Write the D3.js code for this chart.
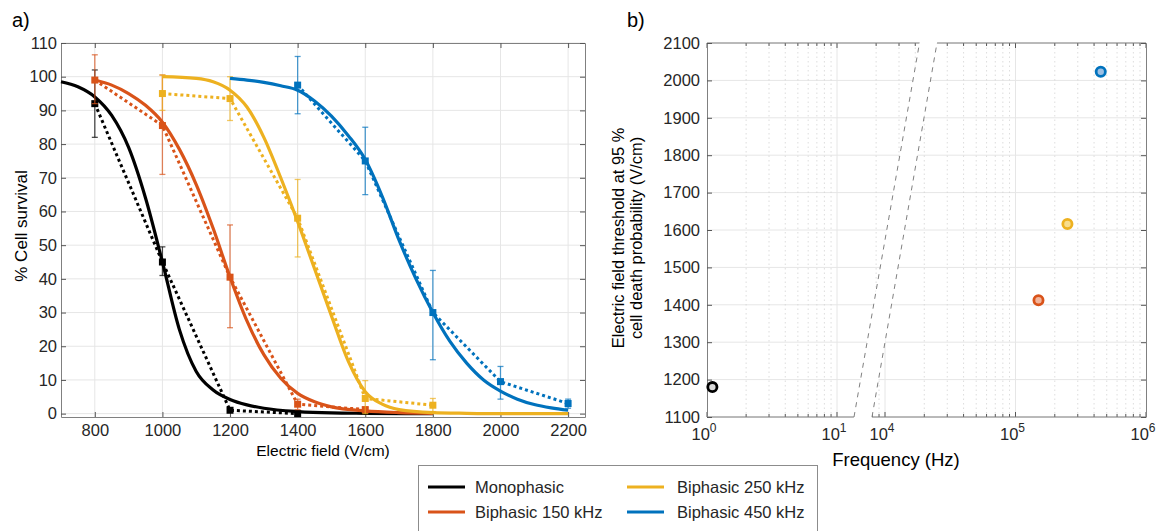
<!DOCTYPE html>
<html>
<head>
<meta charset="utf-8">
<script src="https://cdn.jsdelivr.net/npm/d3@7"></script>
<style>
  body { margin: 0; background: #fff; }
  svg { display: block; font-family: "Liberation Sans", Arial, Helvetica, sans-serif; }
</style>
</head>
<body>
<script>
// ---- data ----
const seriesNames = ["Monophasic", "Biphasic 150 kHz", "Biphasic 250 kHz", "Biphasic 450 kHz"];
const seriesColors = ["#000000", "#D95319", "#EDB120", "#0072BD"];
const seriesFills = ["#d9d9d9", "#f2b49b", "#f8dd8c", "#9cbfe3"];

const fieldTicks = [800, 1000, 1200, 1400, 1600, 1800, 2000, 2200];
const survivalTicks = [0, 10, 20, 30, 40, 50, 60, 70, 80, 90, 100, 110];

// measured survival (mean, low and high of error bar)
const measField = [
  [800, 1000, 1200, 1400],
  [800, 1000, 1200, 1400, 1600],
  [1000, 1200, 1400, 1600, 1800],
  [1400, 1600, 1800, 2000, 2200]
];
const measMean = [
  [92, 45, 1, 0],
  [99, 85.5, 40.5, 2.8, 1.2],
  [95, 93.5, 58, 4.5, 2.5],
  [97.5, 75, 30, 9.5, 3]
];
const measLow = [
  [82, 41, 0.5, 0],
  [92, 71, 25.5, 1.2, 0.6],
  [90, 87, 46.5, 0, 0.6],
  [89, 65, 16, 4.3, 1.6]
];
const measHigh = [
  [102, 49.5, 1.5, 0.4],
  [106.5, 100.5, 56, 4.3, 1.8],
  [100.5, 100, 69.5, 9.8, 4.5],
  [106, 85, 42.5, 14, 4.3]
];

// fitted curves
const fitField = [
  [700, 750, 800, 850, 900, 950, 1000, 1050, 1100, 1150, 1200, 1250, 1300, 1400, 1500, 1600, 1800],
  [800, 850, 900, 950, 1000, 1050, 1100, 1150, 1200, 1250, 1300, 1350, 1400, 1450, 1500, 1600, 1700, 1800],
  [1000, 1100, 1150, 1200, 1250, 1300, 1350, 1400, 1450, 1500, 1550, 1600, 1650, 1700, 1800, 1900, 2000, 2200],
  [1200, 1250, 1300, 1350, 1400, 1450, 1500, 1550, 1600, 1650, 1700, 1750, 1800, 1850, 1900, 1950, 2000, 2050, 2100, 2150, 2200]
];
const fitSurvival = [
  [98.5, 97, 94, 88.5, 79, 64, 45, 25, 12.5, 7, 4.2, 2.6, 1.6, 0.6, 0.2, 0.1, 0],
  [99, 97.5, 95, 91.5, 86.5, 78.5, 68, 55, 40.5, 27.5, 17.5, 10.5, 6, 3.5, 2, 0.8, 0.3, 0.1],
  [100, 99.5, 98.5, 96, 91, 82, 70, 57, 43, 29, 15.5, 6.5, 2.8, 1.2, 0.3, 0.1, 0, 0],
  [99.5, 99, 98.3, 97.3, 96, 92.8, 88.3, 82.5, 75.4, 64.5, 51.5, 40, 30, 21.5, 15, 10, 6.7, 4.3, 2.7, 1.7, 1]
];

// panel b
const freqHz = [1.1, 150000, 250000, 450000];
const thresholdVcm = [1180, 1412, 1616, 2023];
const thresholdTicks = [1100, 1200, 1300, 1400, 1500, 1600, 1700, 1800, 1900, 2000, 2100];
const freqTicksLow = [1, 10];
const freqTicksHigh = [1e4, 1e5, 1e6];

const W = 1167, H = 531;
const TXT = "#262626", AXC = "#808080", GRID = "#e6e6e6";

const svg = d3.select("body").append("svg").attr("width", W).attr("height", H);

// ================= panel a =================
const x = d3.scaleLinear().domain([700, 2250]).range([61, 585]);
const y = d3.scaleLinear().domain([-1, 110]).range([417, 43]);

const ga = svg.append("g");

ga.append("g").selectAll("line").data(fieldTicks).enter().append("line")
  .attr("x1", d => x(d)).attr("x2", d => x(d))
  .attr("y1", y.range()[1]).attr("y2", y.range()[0])
  .attr("stroke", GRID).attr("stroke-width", 1);
ga.append("g").selectAll("line").data(survivalTicks).enter().append("line")
  .attr("x1", x.range()[0]).attr("x2", x.range()[1])
  .attr("y1", d => y(d)).attr("y2", d => y(d))
  .attr("stroke", GRID).attr("stroke-width", 1);

function styleAxis(g, size) {
  g.attr("font-size", size).attr("font-family", null);
  g.select(".domain").attr("stroke", AXC);
  g.selectAll(".tick line").attr("stroke", "#555");
  g.selectAll(".tick text").attr("fill", TXT);
}

ga.append("g").attr("transform", `translate(0,${y.range()[0]})`)
  .call(d3.axisBottom(x).tickValues(fieldTicks).tickSizeInner(-5).tickSizeOuter(0).tickPadding(7).tickFormat(d3.format("d")))
  .call(g => styleAxis(g, 16.5));
ga.append("g").attr("transform", `translate(0,${y.range()[1]})`)
  .call(d3.axisTop(x).tickValues(fieldTicks).tickSizeInner(-5).tickSizeOuter(0).tickFormat(""))
  .call(g => styleAxis(g, 16.5));
ga.append("g").attr("transform", `translate(${x.range()[0]},0)`)
  .call(d3.axisLeft(y).tickValues(survivalTicks).tickSizeInner(-5).tickSizeOuter(0).tickPadding(4))
  .call(g => styleAxis(g, 16.5));
ga.append("g").attr("transform", `translate(${x.range()[1]},0)`)
  .call(d3.axisRight(y).tickValues(survivalTicks).tickSizeInner(-5).tickSizeOuter(0).tickFormat(""))
  .call(g => styleAxis(g, 16.5));

const fitLine = d3.line().x(d => x(d[0])).y(d => y(d[1])).curve(d3.curveMonotoneX);
const dotLine = d3.line().x(d => x(d[0])).y(d => y(d[1]));

seriesNames.forEach((name, i) => {
  const col = seriesColors[i];
  const fit = fitField[i].map((f, j) => [f, fitSurvival[i][j]]);
  const meas = measField[i].map((f, j) => ({ f: f, m: measMean[i][j], lo: measLow[i][j], hi: measHigh[i][j] }));
  const gs = ga.append("g");

  gs.append("path").datum(fit).attr("d", fitLine)
    .attr("fill", "none").attr("stroke", col).attr("stroke-width", 3.2);
  gs.append("path").datum(meas.map(d => [d.f, d.m])).attr("d", dotLine)
    .attr("fill", "none").attr("stroke", col).attr("stroke-width", 3)
    .attr("stroke-dasharray", "3,3");

  const eb = gs.append("g").attr("stroke", col).attr("stroke-opacity", 0.7).attr("stroke-width", 1.3);
  eb.selectAll(".v").data(meas).enter().append("line")
    .attr("x1", d => x(d.f)).attr("x2", d => x(d.f))
    .attr("y1", d => y(d.lo)).attr("y2", d => y(d.hi));
  eb.selectAll(".t").data(meas).enter().append("line")
    .attr("x1", d => x(d.f) - 3).attr("x2", d => x(d.f) + 3)
    .attr("y1", d => y(d.hi)).attr("y2", d => y(d.hi));
  eb.selectAll(".b").data(meas).enter().append("line")
    .attr("x1", d => x(d.f) - 3).attr("x2", d => x(d.f) + 3)
    .attr("y1", d => y(d.lo)).attr("y2", d => y(d.lo));

  gs.selectAll("rect").data(meas).enter().append("rect")
    .attr("x", d => x(d.f) - 3.5).attr("y", d => y(d.m) - 3.5)
    .attr("width", 7).attr("height", 7).attr("fill", col);
});

ga.append("text").attr("x", (x.range()[0] + x.range()[1]) / 2).attr("y", 456)
  .attr("text-anchor", "middle").attr("font-size", 15.5).attr("fill", "#000")
  .text("Electric field (V/cm)");
ga.append("text").attr("transform", "translate(27,226) rotate(-90)")
  .attr("text-anchor", "middle").attr("font-size", 17).attr("fill", "#000")
  .text("% Cell survival");
svg.append("text").attr("x", 12).attr("y", 27).attr("font-size", 20).text("a)");

// ================= panel b =================
const yb = d3.scaleLinear().domain([1100, 2100]).range([417, 43]);
const fLo = d3.scaleLog().domain([1, 10]).range([707, 837]);
const fHi = d3.scaleLog().domain([1e4, 1e6]).range([885, 1146]);
const bTop = yb.range()[1], bBot = yb.range()[0];
const bL = fLo.range()[0], bR = fHi(1e6);

// axis break: two slanted boundaries
const brk1 = [[854, bBot], [919.5, bTop]];
const brk2 = [[872, bBot], [937, bTop]];
function xAt(seg, yy) {
  const t = (yy - seg[0][1]) / (seg[1][1] - seg[0][1]);
  return seg[0][0] + t * (seg[1][0] - seg[0][0]);
}
const defs = svg.append("defs");
defs.append("clipPath").attr("id", "clipLo").append("polygon")
  .attr("points", [[bL - 5, bTop - 5], [xAt(brk1, bTop - 5), bTop - 5], [xAt(brk1, bBot + 5), bBot + 5], [bL - 5, bBot + 5]].join(" "));
defs.append("clipPath").attr("id", "clipHi").append("polygon")
  .attr("points", [[xAt(brk2, bTop - 5), bTop - 5], [bR + 5, bTop - 5], [bR + 5, bBot + 5], [xAt(brk2, bBot + 5), bBot + 5]].join(" "));

const gb = svg.append("g");
const isMajor = v => Math.abs(Math.log10(v) - Math.round(Math.log10(v))) < 1e-9;

function drawSegment(scale, tickVals, clipId) {
  const g = gb.append("g").attr("clip-path", `url(#${clipId})`);
  // horizontal grid
  g.selectAll(".hg").data(thresholdTicks).enter().append("line")
    .attr("x1", bL).attr("x2", bR).attr("y1", d => yb(d)).attr("y2", d => yb(d))
    .attr("stroke", GRID).attr("stroke-width", 1);
  // vertical grid
  g.selectAll(".vg").data(tickVals.filter(v => scale(v) > bL + 0.5 && scale(v) < bR - 0.5)).enter().append("line")
    .attr("x1", d => scale(d)).attr("x2", d => scale(d)).attr("y1", bTop).attr("y2", bBot)
    .attr("stroke", d => isMajor(d) ? GRID : "#d4d4d4")
    .attr("stroke-width", d => isMajor(d) ? 1 : 0.8)
    .attr("stroke-dasharray", d => isMajor(d) ? null : "1.5,3");
  // ticks top / bottom
  const tk = tickVals.filter(v => scale(v) >= bL - 0.5 && scale(v) <= bR + 0.5);
  g.selectAll(".tb").data(tk).enter().append("line")
    .attr("x1", d => scale(d)).attr("x2", d => scale(d))
    .attr("y1", bBot).attr("y2", d => bBot - (isMajor(d) ? 5 : 3)).attr("stroke", "#555");
  g.selectAll(".tt").data(tk).enter().append("line")
    .attr("x1", d => scale(d)).attr("x2", d => scale(d))
    .attr("y1", bTop).attr("y2", d => bTop + (isMajor(d) ? 5 : 3)).attr("stroke", "#555");
  // box top / bottom
  g.append("line").attr("x1", bL).attr("x2", bR).attr("y1", bTop).attr("y2", bTop).attr("stroke", AXC);
  g.append("line").attr("x1", bL).attr("x2", bR).attr("y1", bBot).attr("y2", bBot).attr("stroke", AXC);
}
drawSegment(fLo, d3.scaleLog().domain([1, 100]).ticks(), "clipLo");
drawSegment(fHi, d3.scaleLog().domain([1000, 1e6]).ticks(), "clipHi");

// left / right y axes
gb.append("g").attr("transform", `translate(${bL},0)`)
  .call(d3.axisLeft(yb).tickValues(thresholdTicks).tickSizeInner(-5).tickSizeOuter(0).tickPadding(7).tickFormat(d3.format("d")))
  .call(g => styleAxis(g, 16.5));
gb.append("g").attr("transform", `translate(${bR},0)`)
  .call(d3.axisRight(yb).tickValues(thresholdTicks).tickSizeInner(-5).tickSizeOuter(0).tickFormat(""))
  .call(g => styleAxis(g, 16.5));

// break lines
[brk1, brk2].forEach(seg => {
  gb.append("line").attr("x1", seg[0][0]).attr("y1", seg[0][1]).attr("x2", seg[1][0]).attr("y2", seg[1][1])
    .attr("stroke", "#808080").attr("stroke-width", 1).attr("stroke-dasharray", "5,5");
});

// decade labels
function decadeLabel(scale, v) {
  const t = gb.append("text").attr("x", scale(v) - 3).attr("y", 440)
    .attr("text-anchor", "middle").attr("font-size", 16.5).attr("fill", TXT);
  t.append("tspan").text("10");
  t.append("tspan").attr("dy", -8).attr("font-size", 12).text(String(Math.round(Math.log10(v))));
}
freqTicksLow.forEach(v => decadeLabel(fLo, v));
freqTicksHigh.forEach(v => decadeLabel(fHi, v));

// points
gb.selectAll(".pt").data(freqHz).enter().append("circle")
  .attr("cx", (d, i) => d < 1000 ? fLo(d) : fHi(d))
  .attr("cy", (d, i) => yb(thresholdVcm[i]))
  .attr("r", 4.6)
  .attr("fill", (d, i) => seriesFills[i])
  .attr("stroke", (d, i) => seriesColors[i]).attr("stroke-width", 2.8);

gb.append("text").attr("x", 896).attr("y", 466).attr("text-anchor", "middle")
  .attr("font-size", 18.5).attr("fill", "#000").text("Frequency (Hz)");
const yl = gb.append("text").attr("transform", "translate(624,238) rotate(-90)")
  .attr("text-anchor", "middle").attr("font-size", 16.4).attr("fill", "#000");
yl.append("tspan").attr("x", 0).attr("y", 0).text("Electric field threshold at 95 %");
yl.append("tspan").attr("x", 0).attr("y", 18).text("cell death probability (V/cm)");
svg.append("text").attr("x", 627).attr("y", 27).attr("font-size", 20).text("b)");

// ================= legend =================
const lg = svg.append("g");
lg.append("rect").attr("x", 418.5).attr("y", 465.5).attr("width", 399).attr("height", 80)
  .attr("fill", "#fff").attr("stroke", "#8c8c8c").attr("stroke-width", 1);
const legX = [[428, 475], [428, 475], [627, 677], [627, 677]];
const legY = [487, 512, 487, 512];
seriesNames.forEach((name, i) => {
  lg.append("line").attr("x1", legX[i][0]).attr("x2", legX[i][0] + 37)
    .attr("y1", legY[i]).attr("y2", legY[i]).attr("stroke", seriesColors[i]).attr("stroke-width", 3);
  lg.append("text").attr("x", legX[i][1]).attr("y", legY[i] + 6)
    .attr("font-size", 16.5).attr("fill", TXT).text(name);
});
</script>
</body>
</html>
